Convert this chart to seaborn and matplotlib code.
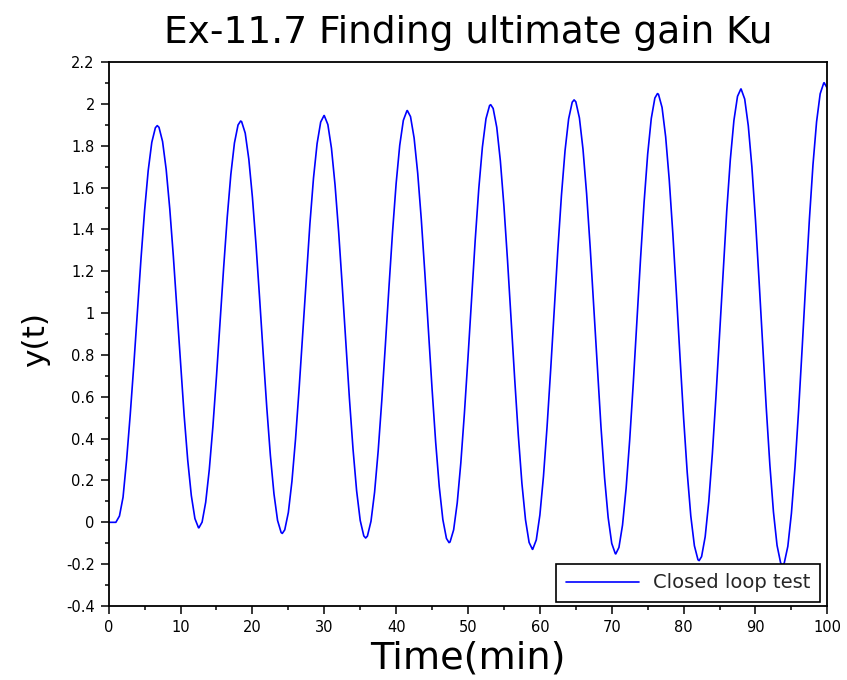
import numpy as np
import pandas as pd
import matplotlib
matplotlib.use("Agg")
import matplotlib.pyplot as plt
import seaborn as sns
from matplotlib.ticker import MultipleLocator

# ---------------- data ----------------
title = "Ex-11.7 Finding ultimate gain Ku"
x_label = "Time(min)"
y_label = "y(t)"
series_name = "Closed loop test"

time_min = np.arange(0, 100.5, 0.5)  # sample times, every 0.5 min

y_values = [
    0.000, 0.000, 0.000, 0.030, 0.120, 0.300, 0.515, 0.753, 1.007, 1.261,
    1.491, 1.681, 1.816, 1.886, 1.888, 1.820, 1.687, 1.499, 1.271, 1.017,
    0.758, 0.512, 0.297, 0.128, 0.018, -0.026, 0.001, 0.096, 0.252, 0.457,
    0.697, 0.955, 1.218, 1.459, 1.663, 1.813, 1.899, 1.915, 1.860, 1.736,
    1.554, 1.328, 1.072, 0.806, 0.549, 0.320, 0.136, 0.009, -0.049, -0.036,
    0.047, 0.196, 0.398, 0.639, 0.902, 1.173, 1.426, 1.645, 1.810, 1.913,
    1.944, 1.901, 1.788, 1.612, 1.388, 1.130, 0.857, 0.591, 0.350, 0.151,
    0.009, -0.065, -0.066, 0.005, 0.144, 0.341, 0.581, 0.847, 1.123, 1.388,
    1.620, 1.802, 1.921, 1.967, 1.939, 1.837, 1.669, 1.448, 1.189, 0.912,
    0.637, 0.383, 0.170, 0.013, -0.077, -0.094, -0.036, 0.093, 0.284, 0.522,
    0.789, 1.072, 1.348, 1.595, 1.793, 1.929, 1.992, 1.978, 1.888, 1.728,
    1.511, 1.251, 0.969, 0.683, 0.416, 0.186, 0.012, -0.096, -0.129, -0.084,
    0.035, 0.220, 0.457, 0.728, 1.016, 1.303, 1.562, 1.776, 1.928, 2.008,
    2.010, 1.933, 1.783, 1.572, 1.314, 1.028, 0.735, 0.457, 0.214, 0.023,
    -0.101, -0.150, -0.120, -0.013, 0.163, 0.395, 0.667, 0.958, 1.256, 1.529,
    1.760, 1.930, 2.028, 2.046, 1.983, 1.843, 1.637, 1.380, 1.091, 0.789,
    0.498, 0.239, 0.030, -0.112, -0.179, -0.164, -0.069, 0.099, 0.328, 0.600,
    0.898, 1.203, 1.488, 1.734, 1.921, 2.036, 2.071, 2.023, 1.895, 1.698,
    1.445, 1.154, 0.848, 0.547, 0.275, 0.050, -0.110, -0.194, -0.195, -0.115,
    0.043, 0.265, 0.535, 0.836, 1.148, 1.447, 1.709, 1.914, 2.048, 2.100,
    2.074,
]

# extreme points of the oscillation (peaks and troughs)
peak_times = [6.76, 18.36, 29.96, 41.56, 53.16, 64.76, 76.36, 87.96, 99.56]
peak_values = [1.896, 1.918, 1.944, 1.968, 1.996, 2.019, 2.049, 2.071, 2.101]
trough_times = [12.56, 24.16, 35.76, 47.36, 58.96, 70.56, 82.16, 93.76]
trough_values = [-0.026, -0.053, -0.075, -0.097, -0.129, -0.151, -0.183, -0.205]

x_ticks = [0, 10, 20, 30, 40, 50, 60, 70, 80, 90, 100]
x_tick_labels = ["0", "10", "20", "30", "40", "50", "60", "70", "80", "90", "100"]
y_ticks = [-0.4, -0.2, 0, 0.2, 0.4, 0.6, 0.8, 1, 1.2, 1.4, 1.6, 1.8, 2, 2.2]
y_tick_labels = ["-0.4", "-0.2", "0", "0.2", "0.4", "0.6", "0.8", "1",
                 "1.2", "1.4", "1.6", "1.8", "2", "2.2"]

df = pd.concat([
    pd.DataFrame({"time": time_min, "y": y_values}),
    pd.DataFrame({"time": peak_times, "y": peak_values}),
    pd.DataFrame({"time": trough_times, "y": trough_values}),
]).sort_values("time").reset_index(drop=True)

# ---------------- styling ----------------
sns.set_theme(style="white")
plt.rcParams["font.family"] = ["DejaVu Sans"]

fig = plt.figure(figsize=(8.47, 6.8), dpi=100)
ax = fig.add_axes([0.1283, 0.1088, 0.8485, 0.8])

sns.lineplot(data=df, x="time", y="y", color="#0000ff", linewidth=1.2,
             label=series_name, ax=ax, estimator=None, sort=False)

ax.set_xlim(0, 100)
ax.set_ylim(-0.4, 2.2)
ax.set_xticks(x_ticks)
ax.set_xticklabels(x_tick_labels)
ax.set_yticks(y_ticks)
ax.set_yticklabels(y_tick_labels)
ax.xaxis.set_minor_locator(MultipleLocator(5))
ax.yaxis.set_minor_locator(MultipleLocator(0.1))

ax.tick_params(which="major", direction="out", length=6, width=1.1,
               labelsize=10.5, colors="black", left=True, bottom=True,
               top=False, right=False, pad=4)
ax.tick_params(which="minor", direction="out", length=3, width=1.1,
               colors="black", left=True, bottom=True, top=False, right=False)

for sp in ax.spines.values():
    sp.set_visible(True)
    sp.set_color("black")
    sp.set_linewidth(1.3)

ax.set_title(title, fontsize=27, pad=14, color="black")
ax.set_xlabel(x_label, fontsize=27.5, va="baseline", color="black")
ax.xaxis.set_label_coords(0.5, -0.114)
ax.set_ylabel(y_label, fontsize=22.5, color="black")
ax.yaxis.set_label_coords(-0.082, 0.49)

leg = ax.legend(loc="lower right", bbox_to_anchor=(0.99, 0.007),
                borderaxespad=0, fontsize=14, frameon=True, fancybox=False,
                edgecolor="black", framealpha=1, handlelength=3.8,
                handletextpad=0.7, borderpad=0.5)
leg.get_frame().set_linewidth(1.2)

fig.savefig("out.png", dpi=100)
